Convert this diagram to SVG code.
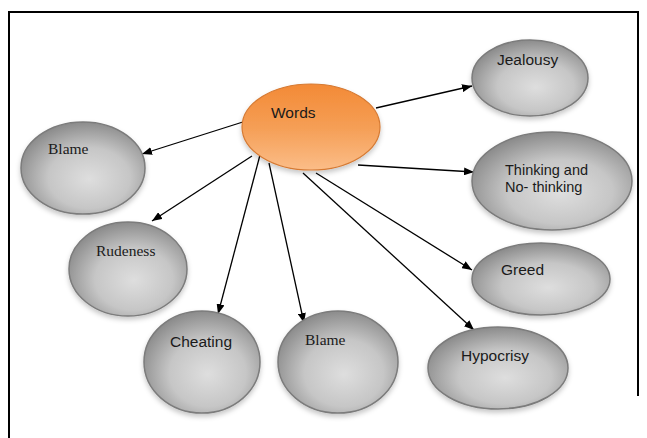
<svg xmlns="http://www.w3.org/2000/svg" width="647" height="438" viewBox="0 0 647 438">
<defs>
<radialGradient id="gray" cx="0.55" cy="0.6" r="0.6" fx="0.55" fy="0.62">
<stop offset="0" stop-color="#dedede"/>
<stop offset="0.55" stop-color="#c6c6c6"/>
<stop offset="1" stop-color="#8c8c8c"/>
</radialGradient>
<linearGradient id="orange" x1="0" y1="0" x2="0" y2="1">
<stop offset="0" stop-color="#f38a36"/>
<stop offset="0.5" stop-color="#f59e55"/>
<stop offset="1" stop-color="#fbbd88"/>
</linearGradient>
<filter id="sh" x="-20%" y="-20%" width="140%" height="150%">
<feDropShadow dx="0" dy="3" stdDeviation="2.5" flood-color="#000" flood-opacity="0.22"/>
</filter>
<marker id="ah" viewBox="0 0 10 8" refX="10" refY="4" markerWidth="10" markerHeight="8" markerUnits="userSpaceOnUse" orient="auto">
<path d="M0,0 L10,4 L0,8 z" fill="#000"/>
</marker>
</defs>
<style>
.g{fill:url(#gray);stroke:#7b7b7b;stroke-width:1.5;filter:url(#sh)}
.o{fill:url(#orange);stroke:#d67a33;stroke-width:1.2;filter:url(#sh)}
.s{font-family:"Liberation Sans",Arial,sans-serif;font-size:15.5px;fill:#1a1a1a}
.t{font-family:"Liberation Serif","Times New Roman",serif;font-size:15.5px;fill:#1a1a1a}
.c line{stroke:#000;stroke-width:1.3;marker-end:url(#ah)}
</style>
<rect width="647" height="438" fill="#fff"/>
<path d="M9,438 V12 H638 V396" fill="none" stroke="#000" stroke-width="2"/>
<g class="c" id="connectors">
<line x1="376" y1="108" x2="472" y2="86"/>
<line x1="358" y1="165" x2="474" y2="172"/>
<line x1="316" y1="173" x2="472" y2="270"/>
<line x1="303" y1="173" x2="474" y2="330"/>
<line x1="246" y1="121" x2="142" y2="154"/>
<line x1="252" y1="156" x2="152" y2="221"/>
<line x1="260" y1="155" x2="218" y2="314"/>
<line x1="269" y1="163" x2="304" y2="323"/>
</g>
<g id="words"><ellipse class="o" cx="311" cy="127" rx="69" ry="43"/><text class="s" x="271" y="118">Words</text></g>
<g id="blame1"><ellipse class="g" cx="83" cy="168" rx="62" ry="46"/><text class="t" x="48" y="154">Blame</text></g>
<g id="rudeness"><ellipse class="g" cx="128" cy="269" rx="59" ry="47"/><text class="t" x="96" y="256">Rudeness</text></g>
<g id="cheating"><ellipse class="g" cx="202" cy="362" rx="58" ry="51"/><text class="s" x="170" y="347">Cheating</text></g>
<g id="blame2"><ellipse class="g" cx="338" cy="362" rx="60" ry="51"/><text class="t" x="305" y="345">Blame</text></g>
<g id="hypocrisy"><ellipse class="g" cx="498" cy="368" rx="70" ry="41"/><text class="s" x="461" y="361">Hypocrisy</text></g>
<g id="jealousy"><ellipse class="g" cx="530" cy="78" rx="58" ry="38"/><text class="s" x="497" y="65">Jealousy</text></g>
<g id="thinking"><ellipse class="g" cx="552" cy="181" rx="80" ry="49"/><text class="s" x="505" y="175" style="font-size:14.5px">Thinking and</text><text class="s" x="505" y="192" style="font-size:14.5px">No- thinking</text></g>
<g id="greed"><ellipse class="g" cx="541" cy="279" rx="69" ry="36"/><text class="s" x="501" y="275">Greed</text></g>
</svg>
